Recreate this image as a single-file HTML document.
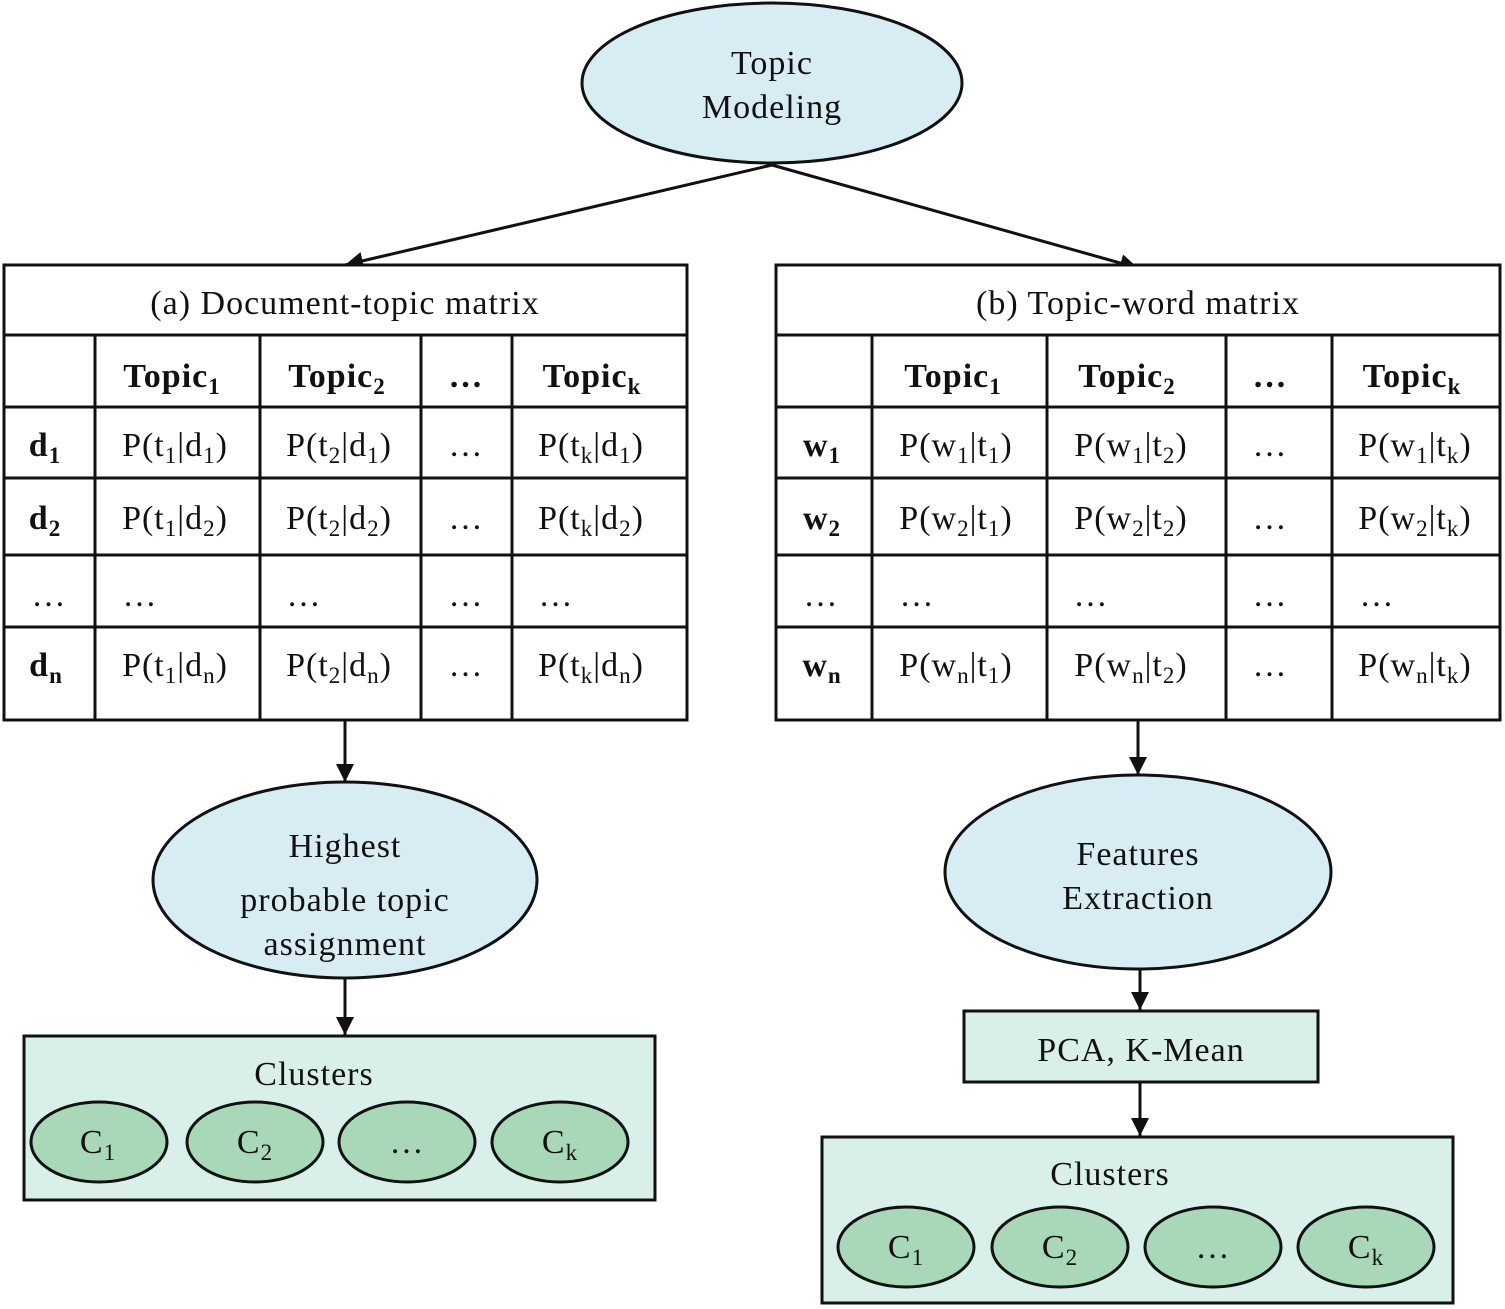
<!DOCTYPE html>
<html><head><meta charset="utf-8"><style>
html,body{margin:0;padding:0;background:#fff;}
svg{display:block;}
text{font-family:"Liberation Serif",serif;font-size:34px;letter-spacing:1px;fill:#111;}
.b{font-weight:bold;}
</style></head><body>
<svg width="1505" height="1309" viewBox="0 0 1505 1309" xmlns="http://www.w3.org/2000/svg">
<defs>
<marker id="a" viewBox="0 0 10 10" refX="10" refY="5" markerWidth="22" markerHeight="18" markerUnits="userSpaceOnUse" orient="auto"><path d="M0,0 L10,5 L0,10 z" fill="#111"/></marker></defs>
<g stroke="#111" stroke-width="3">
<ellipse cx="772" cy="83" rx="190" ry="80" fill="#d7ecf3"/>
<line x1="772" y1="165" x2="345" y2="265" marker-end="url(#a)"/>
<line x1="772" y1="165" x2="1138" y2="268" marker-end="url(#a)"/>
<rect x="4" y="265" width="683" height="455" fill="#fff"/>
<line x1="4" y1="335" x2="687" y2="335"/><line x1="4" y1="407" x2="687" y2="407"/><line x1="4" y1="478" x2="687" y2="478"/><line x1="4" y1="555" x2="687" y2="555"/><line x1="4" y1="627" x2="687" y2="627"/>
<line x1="95" y1="335" x2="95" y2="720"/><line x1="260" y1="335" x2="260" y2="720"/><line x1="421" y1="335" x2="421" y2="720"/><line x1="512" y1="335" x2="512" y2="720"/>
<rect x="776" y="265" width="724" height="455" fill="#fff"/>
<line x1="776" y1="335" x2="1500" y2="335"/><line x1="776" y1="407" x2="1500" y2="407"/><line x1="776" y1="478" x2="1500" y2="478"/><line x1="776" y1="555" x2="1500" y2="555"/><line x1="776" y1="627" x2="1500" y2="627"/>
<line x1="872" y1="335" x2="872" y2="720"/><line x1="1047" y1="335" x2="1047" y2="720"/><line x1="1226" y1="335" x2="1226" y2="720"/><line x1="1332" y1="335" x2="1332" y2="720"/>
<line x1="345" y1="720" x2="345" y2="782" marker-end="url(#a)"/>
<ellipse cx="345" cy="880" rx="192" ry="98" fill="#d7ecf3"/>
<line x1="345" y1="978" x2="345" y2="1035" marker-end="url(#a)"/>
<rect x="24" y="1036" width="631" height="164" fill="#d9efe9"/>
<ellipse cx="99" cy="1142" rx="68" ry="40" fill="#a9d8b8"/>
<ellipse cx="255" cy="1142" rx="68" ry="40" fill="#a9d8b8"/>
<ellipse cx="407" cy="1142" rx="68" ry="40" fill="#a9d8b8"/>
<ellipse cx="560" cy="1142" rx="68" ry="40" fill="#a9d8b8"/>
<line x1="1138" y1="720" x2="1138" y2="775" marker-end="url(#a)"/>
<ellipse cx="1138" cy="872" rx="193" ry="97" fill="#d7ecf3"/>
<line x1="1140" y1="969" x2="1140" y2="1010" marker-end="url(#a)"/>
<rect x="964" y="1011" width="354" height="71" fill="#d9efe9"/>
<line x1="1140" y1="1082" x2="1140" y2="1136" marker-end="url(#a)"/>
<rect x="822" y="1137" width="631" height="166" fill="#d9efe9"/>
<ellipse cx="906" cy="1247" rx="68" ry="40" fill="#a9d8b8"/>
<ellipse cx="1060" cy="1247" rx="68" ry="40" fill="#a9d8b8"/>
<ellipse cx="1213" cy="1247" rx="68" ry="40" fill="#a9d8b8"/>
<ellipse cx="1366" cy="1247" rx="68" ry="40" fill="#a9d8b8"/>
</g>
<g text-anchor="middle">
<text x="772" y="74">Topic</text><text x="772" y="118">Modeling</text>
<text x="345" y="314">(a) Document-topic matrix</text>
<text x="1138" y="314">(b) Topic-word matrix</text>
<text class="b" x="172" y="387">Topic<tspan dy="7" font-size="23">1</tspan></text>
<text class="b" x="337" y="387">Topic<tspan dy="7" font-size="23">2</tspan></text>
<text class="b" x="466" y="387">…</text>
<text class="b" x="592" y="387">Topic<tspan dy="7" font-size="23">k</tspan></text>
<text class="b" x="45" y="456">d<tspan dy="7" font-size="23">1</tspan></text>
<text x="175" y="456">P(t<tspan dy="7" font-size="23">1</tspan><tspan dy="-7">|d</tspan><tspan dy="7" font-size="23">1</tspan><tspan dy="-7">)</tspan></text>
<text x="339" y="456">P(t<tspan dy="7" font-size="23">2</tspan><tspan dy="-7">|d</tspan><tspan dy="7" font-size="23">1</tspan><tspan dy="-7">)</tspan></text>
<text x="466" y="456">…</text>
<text x="591" y="456">P(t<tspan dy="7" font-size="23">k</tspan><tspan dy="-7">|d</tspan><tspan dy="7" font-size="23">1</tspan><tspan dy="-7">)</tspan></text>
<text class="b" x="45" y="529">d<tspan dy="7" font-size="23">2</tspan></text>
<text x="175" y="529">P(t<tspan dy="7" font-size="23">1</tspan><tspan dy="-7">|d</tspan><tspan dy="7" font-size="23">2</tspan><tspan dy="-7">)</tspan></text>
<text x="339" y="529">P(t<tspan dy="7" font-size="23">2</tspan><tspan dy="-7">|d</tspan><tspan dy="7" font-size="23">2</tspan><tspan dy="-7">)</tspan></text>
<text x="466" y="529">…</text>
<text x="591" y="529">P(t<tspan dy="7" font-size="23">k</tspan><tspan dy="-7">|d</tspan><tspan dy="7" font-size="23">2</tspan><tspan dy="-7">)</tspan></text>
<text x="49" y="606">…</text><text x="140" y="606">…</text><text x="304" y="606">…</text><text x="466" y="606">…</text><text x="556" y="606">…</text>
<text class="b" x="46" y="676">d<tspan dy="7" font-size="23">n</tspan></text>
<text x="175" y="676">P(t<tspan dy="7" font-size="23">1</tspan><tspan dy="-7">|d</tspan><tspan dy="7" font-size="23">n</tspan><tspan dy="-7">)</tspan></text>
<text x="339" y="676">P(t<tspan dy="7" font-size="23">2</tspan><tspan dy="-7">|d</tspan><tspan dy="7" font-size="23">n</tspan><tspan dy="-7">)</tspan></text>
<text x="466" y="676">…</text>
<text x="591" y="676">P(t<tspan dy="7" font-size="23">k</tspan><tspan dy="-7">|d</tspan><tspan dy="7" font-size="23">n</tspan><tspan dy="-7">)</tspan></text>
<text class="b" x="953" y="387">Topic<tspan dy="7" font-size="23">1</tspan></text>
<text class="b" x="1127" y="387">Topic<tspan dy="7" font-size="23">2</tspan></text>
<text class="b" x="1270" y="387">…</text>
<text class="b" x="1412" y="387">Topic<tspan dy="7" font-size="23">k</tspan></text>
<text class="b" x="822" y="456">w<tspan dy="7" font-size="23">1</tspan></text>
<text x="956" y="456">P(w<tspan dy="7" font-size="23">1</tspan><tspan dy="-7">|t</tspan><tspan dy="7" font-size="23">1</tspan><tspan dy="-7">)</tspan></text>
<text x="1131" y="456">P(w<tspan dy="7" font-size="23">1</tspan><tspan dy="-7">|t</tspan><tspan dy="7" font-size="23">2</tspan><tspan dy="-7">)</tspan></text>
<text x="1270" y="456">…</text>
<text x="1415" y="456">P(w<tspan dy="7" font-size="23">1</tspan><tspan dy="-7">|t</tspan><tspan dy="7" font-size="23">k</tspan><tspan dy="-7">)</tspan></text>
<text class="b" x="822" y="529">w<tspan dy="7" font-size="23">2</tspan></text>
<text x="956" y="529">P(w<tspan dy="7" font-size="23">2</tspan><tspan dy="-7">|t</tspan><tspan dy="7" font-size="23">1</tspan><tspan dy="-7">)</tspan></text>
<text x="1131" y="529">P(w<tspan dy="7" font-size="23">2</tspan><tspan dy="-7">|t</tspan><tspan dy="7" font-size="23">2</tspan><tspan dy="-7">)</tspan></text>
<text x="1270" y="529">…</text>
<text x="1415" y="529">P(w<tspan dy="7" font-size="23">2</tspan><tspan dy="-7">|t</tspan><tspan dy="7" font-size="23">k</tspan><tspan dy="-7">)</tspan></text>
<text x="821" y="606">…</text><text x="917" y="606">…</text><text x="1091" y="606">…</text><text x="1270" y="606">…</text><text x="1377" y="606">…</text>
<text class="b" x="822" y="676">w<tspan dy="7" font-size="23">n</tspan></text>
<text x="956" y="676">P(w<tspan dy="7" font-size="23">n</tspan><tspan dy="-7">|t</tspan><tspan dy="7" font-size="23">1</tspan><tspan dy="-7">)</tspan></text>
<text x="1131" y="676">P(w<tspan dy="7" font-size="23">n</tspan><tspan dy="-7">|t</tspan><tspan dy="7" font-size="23">2</tspan><tspan dy="-7">)</tspan></text>
<text x="1270" y="676">…</text>
<text x="1415" y="676">P(w<tspan dy="7" font-size="23">n</tspan><tspan dy="-7">|t</tspan><tspan dy="7" font-size="23">k</tspan><tspan dy="-7">)</tspan></text>
<text x="345" y="857">Highest</text>
<text x="345" y="911">probable topic</text>
<text x="345" y="955">assignment</text>
<text x="314" y="1085">Clusters</text>
<text x="98" y="1153">C<tspan dy="7" font-size="23">1</tspan></text>
<text x="255" y="1153">C<tspan dy="7" font-size="23">2</tspan></text>
<text x="407" y="1153">…</text>
<text x="560" y="1153">C<tspan dy="7" font-size="23">k</tspan></text>
<text x="1138" y="865">Features</text>
<text x="1138" y="909">Extraction</text>
<text x="1141" y="1061">PCA, K-Mean</text>
<text x="1110" y="1185">Clusters</text>
<text x="906" y="1258">C<tspan dy="7" font-size="23">1</tspan></text>
<text x="1060" y="1258">C<tspan dy="7" font-size="23">2</tspan></text>
<text x="1213" y="1258">…</text>
<text x="1366" y="1258">C<tspan dy="7" font-size="23">k</tspan></text>
</g>
</svg>
</body></html>
